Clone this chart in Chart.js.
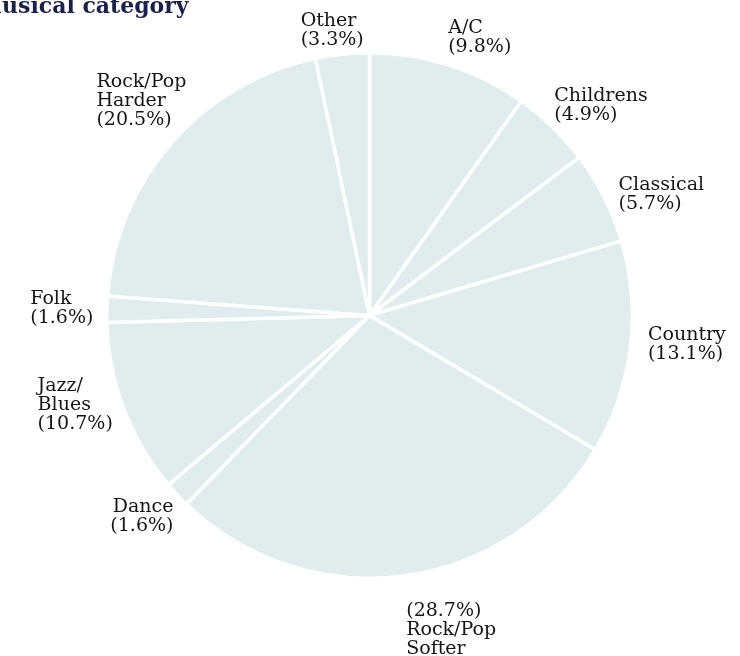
<!DOCTYPE html>
<html>
<head>
<meta charset="utf-8">
<script src="https://cdn.jsdelivr.net/npm/chart.js@4.4.1/dist/chart.umd.min.js"></script>
<style>
  html, body { margin: 0; padding: 0; background: #fff; overflow: hidden; }
  canvas { display: block; }
</style>
</head>
<body>
<canvas id="chart" width="740" height="656"></canvas>
<script>
// data, clockwise from 12 o'clock
const categories = ['A/C', 'Childrens', 'Classical', 'Country', 'Rock/Pop Softer', 'Dance', 'Jazz/Blues', 'Folk', 'Rock/Pop Harder', 'Other'];
const labelLines = [['A/C'], ['Childrens'], ['Classical'], ['Country'], ['Rock/Pop', 'Softer'], ['Dance'], ['Jazz/', 'Blues'], ['Folk'], ['Rock/Pop', 'Harder'], ['Other']];
const shares = [9.8, 4.9, 5.7, 13.1, 28.7, 1.6, 10.7, 1.6, 20.5, 3.3];
const titleText = 'Musical category';

// label placement tweaks (degrees off the slice middle, px beyond the rim)
const labelTurn = [4, 3.6, 4.3, -1.8, -7, 1.5, 3.8, 0, 2, -1.5];
const labelGap = [36, 50, 53, 56, 62, 41, 45, 45, 50, 25];
const labelAlign = ['left', 'left', 'left', 'left', 'left', 'right', 'left', 'left', 'left', 'left'];
const percentFirst = [false, false, false, false, true, false, false, false, false, false];

const pieColor = '#e1ecee';
const textColor = '#151515';
const labelFont = '19px "DejaVu Serif", serif';
const lineH = 19;

const sliceLabels = {
    id: 'sliceLabels',
    afterDatasetsDraw(chart) {
        const ctx = chart.ctx;
        const arcs = chart.getDatasetMeta(0).data;
        ctx.save();
        ctx.font = labelFont;
        ctx.fillStyle = textColor;
        ctx.textBaseline = 'middle';
        arcs.forEach((arc, i) => {
            const p = arc.getProps(['x', 'y', 'startAngle', 'endAngle', 'outerRadius'], true);
            const mid = (p.startAngle + p.endAngle) / 2 + labelTurn[i] * Math.PI / 180;
            const r = p.outerRadius + labelGap[i];
            const cx = p.x + Math.cos(mid) * r;
            const cy = p.y + Math.sin(mid) * r;
            const pct = '(' + shares[i].toFixed(1) + '%)';
            const lines = percentFirst[i] ? [pct].concat(labelLines[i]) : labelLines[i].concat([pct]);
            const w = Math.max(...lines.map(l => ctx.measureText(l).width));
            const top = cy - (lines.length - 1) * lineH / 2;
            ctx.textAlign = labelAlign[i];
            const x = labelAlign[i] === 'right' ? cx + w / 2 : cx - w / 2;
            lines.forEach((l, k) => ctx.fillText(l, x, top + k * lineH));
        });
        // title, cut off at the left edge like the scan
        ctx.font = 'bold 22px "DejaVu Serif", serif';
        ctx.fillStyle = '#1b2048';
        ctx.textAlign = 'left';
        ctx.textBaseline = 'alphabetic';
        ctx.fillText(titleText, -ctx.measureText('M').width + 2, 13);
        ctx.restore();
    }
};

const chart = new Chart(document.getElementById('chart'), {
    type: 'pie',
    data: {
        labels: categories,
        datasets: [{
            data: shares,
            backgroundColor: pieColor,
            borderColor: '#ffffff',
            borderWidth: 3.5,
        }],
    },
    options: {
        responsive: false,
        animation: false,
        layout: { padding: { left: 105, right: 106, top: 51, bottom: 76 } },
        plugins: {
            legend: { display: false },
            tooltip: { enabled: false },
        },
    },
    plugins: [sliceLabels],
});
</script>
</body>
</html>
